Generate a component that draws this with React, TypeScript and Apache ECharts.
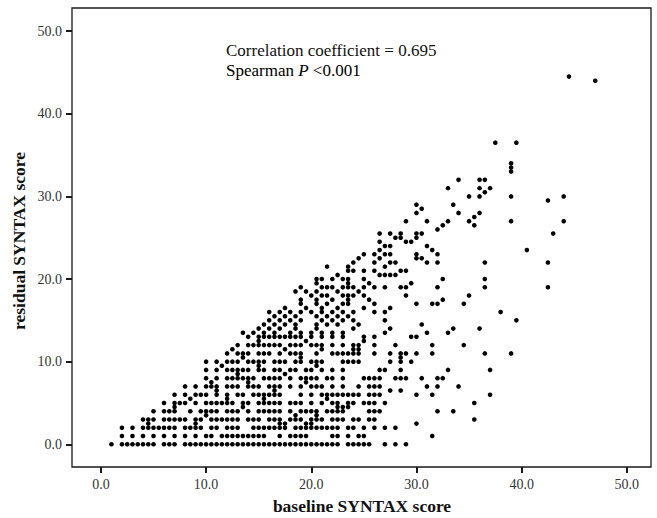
import React, { useEffect, useRef } from "react";
import * as echarts from "echarts";

const xTicks = [0, 10, 20, 30, 40, 50];
const yTicks = [0, 10, 20, 30, 40, 50];

// [residual SYNTAX score, baseline SYNTAX scores at that residual]
const lowRows: [number, number[]][] = [
  [0, [1, 2, 2.5, 3, 3.5, 4, 4.5, 5, 6, 6.5, 7, 8, 8.5, 9, 9.5, 10, 10.5, 11, 11.5, 12, 12.5, 13, 13.5, 14, 14.5, 15, 15.5, 16, 16.5, 17, 17.5, 18, 18.5, 19, 19.5, 20, 20.5, 21, 21.5, 22, 22.5, 23.5, 24, 24.5, 25, 25.5, 27, 28, 29]],
  [1, [2, 3, 4, 5, 6, 7, 8, 9, 10, 10.5, 11.5, 12, 12.5, 13, 13.5, 14, 14.5, 15, 15.5, 17, 18, 18.5, 19, 19.5, 22, 22.5, 23.5, 24.5, 25, 31.5]],
  [2, [2, 3, 4, 4.5, 5, 5.5, 6, 6.5, 7, 8, 8.5, 9, 9.5, 10.5, 11, 12, 12.5, 13, 14.5, 15, 15.5, 16, 16.5, 17, 17.5, 18.5, 19, 19.5, 20, 20.5, 21, 21.5, 22, 22.5, 23.5, 24, 25, 26, 27, 28]],
  [2.5, [4.5, 9, 17, 17.5, 19.5, 20, 30]],
  [3, [4, 4.5, 5, 6, 6.5, 7, 7.5, 8, 9, 9.5, 10.5, 11, 11.5, 12, 12.5, 13, 14, 14.5, 15, 16, 16.5, 17, 18, 18.5, 19, 20, 20.5, 21, 22, 22.5, 23, 24, 24.5, 25.5, 26, 35.5]],
  [3.5, [10, 18.5, 20.5]],
  [4, [5, 6, 6.5, 7, 8.5, 9.5, 10, 10.5, 11, 12, 12.5, 13, 14, 15, 15.5, 16, 16.5, 17, 18, 19, 19.5, 20, 20.5, 21.5, 22, 22.5, 23, 25.5, 26, 26.5, 32, 33.5]],
  [4.5, [7, 13.5, 22.5, 23, 23.5]],
  [5, [6, 7, 7.5, 8, 9, 10, 10.5, 11, 11.5, 12, 12.5, 13.5, 14, 15, 15.5, 16, 16.5, 17, 18, 18.5, 19, 20, 21, 22, 22.5, 23.5, 24, 25, 25.5, 26, 27, 35.5]],
  [5.5, [8.5, 12, 15.5, 21.5]],
  [6, [7, 8, 9, 9.5, 10, 11, 12, 13, 13.5, 14.5, 15, 15.5, 16, 16.5, 17, 19, 20, 21, 21.5, 22, 22.5, 23, 23.5, 24, 24.5, 25.5, 26, 26.5, 30, 31.5, 37]],
  [6.5, [11, 16.5, 27.5, 28.5]],
  [7, [8, 9, 10, 10.5, 11, 12, 12.5, 13, 14, 14.5, 15, 16, 16.5, 17, 18, 19, 20, 20.5, 21, 22, 23, 24.5, 25.5, 26, 26.5, 31, 32, 34]],
  [7.5, [10.5, 14, 19.5]],
  [8, [10, 11, 12, 12.5, 13, 13.5, 14, 14.5, 15.5, 16, 16.5, 17, 18, 19, 19.5, 20, 20.5, 21.5, 22, 23, 25, 25.5, 26, 26.5, 28, 28.5, 29, 30.5, 32, 32.5]],
  [8.5, [13, 17.5]],
  [9, [10, 11, 12, 12.5, 13, 13.5, 14, 15, 15.5, 16.5, 17, 18, 18.5, 19.5, 20, 21, 22, 23, 26.5, 27, 28.5, 33, 37]],
  [9.5, [11.5, 15, 20.5]],
  [10, [10, 11, 12, 12.5, 13, 14, 14.5, 15, 15.5, 16.5, 17, 17.5, 18.5, 19, 20, 20.5, 21, 23, 23.5, 24, 24.5, 27.5, 28.5, 29.5]],
  [10.5, [13.5, 19, 28.5]],
];

const highRows: [number, number[]][] = [
  [11, [12, 13, 13.5, 14, 15, 15.5, 16, 17, 18, 18.5, 19, 20.5, 22, 22.5, 23, 23.5, 24, 24.5, 26, 27.5, 28.5, 29, 30, 31.5, 36.5, 39]],
  [11.5, [12.5, 17.5, 21, 24, 24.5]],
  [12, [13, 14, 14.5, 15, 15.5, 16, 16.5, 17, 18, 18.5, 19, 20, 20.5, 21, 22, 23, 24, 24.5, 26, 28, 31.5, 34.5]],
  [12.5, [15, 19.5, 25]],
  [13, [14, 15, 15.5, 16, 16.5, 17, 17.5, 18, 18.5, 19, 20, 21, 22, 23, 25, 26, 29.5, 30]],
  [13.5, [13.5, 14.5, 15.5, 16.5, 18, 19, 20, 21, 22, 23, 27, 31, 33]],
  [14, [15, 16, 17, 18.5, 20.5, 24, 27.5, 33.5, 36]],
  [14.5, [15.5, 16.5, 17.5, 18.5, 20.5, 21.5, 22.5, 24.5, 30.5]],
  [15, [16, 17, 18, 19, 21, 22, 23, 24, 27, 39.5]],
  [15.5, [16.5, 17.5, 18.5, 20.5, 21.5, 22.5, 23.5]],
  [16, [16, 17, 18, 19, 20, 21, 22, 23, 24, 26, 27, 38]],
  [16.5, [17.5, 19.5, 21, 22.5, 25, 27.5]],
  [17, [19, 20.5, 21.5, 23, 23.5, 26, 30, 31.5, 32, 34.5]],
  [17.5, [19, 20.5, 22, 23.5, 25.5, 32.5]],
  [18, [20, 21, 21.5, 23, 23.5, 24, 25, 29, 35]],
  [18.5, [18.5, 19.5, 20.5, 22.5, 24.5]],
  [19, [19, 21, 21.5, 22, 23, 23.5, 24, 25, 26, 27, 28.5, 29, 32, 36.5, 42.5]],
  [19.5, [20.5, 23.5, 25.5, 29.5]],
  [20, [20.5, 21, 22, 23, 23.5, 25, 32.5, 36.5]],
  [20.5, [22.5, 26.5, 27, 27.5, 28]],
  [21, [23.5, 24, 25, 26, 28.5, 29]],
  [21.5, [21.5, 23.5, 27]],
  [22, [24, 26, 27.5, 28, 31, 32, 36.5, 42.5]],
  [22.5, [24.5, 26.5, 30, 30.5]],
  [23, [25, 26, 27, 27.5, 30, 32]],
  [23.5, [26.5, 31.5, 40.5]],
  [24, [27, 27.5, 31]],
  [24.5, [26.5, 29, 29.5]],
  [25, [28, 28.5, 30]],
  [25.5, [26.5, 27.5, 28.5, 30, 30.5, 43]],
  [26, [32]],
  [26.5, [32.5, 35.5]],
  [27, [29, 31, 33, 35, 39, 44]],
  [27.5, [35.5]],
  [28, [30, 34, 36]],
  [28.5, [30.5]],
  [29, [30, 33.5]],
  [29.5, [42.5]],
  [30, [35, 36, 39, 44]],
  [30.5, [36.5]],
  [31, [33, 36, 37]],
  [32, [34, 36, 36.5]],
  [33, [39]],
  [33.5, [39]],
  [34, [39]],
  [36.5, [37.5, 39.5]],
  [44, [47]],
  [44.5, [44.5]],
];

const annotationLine1 = "Correlation coefficient = 0.695";
const xTitle = "baseline SYNTAX score";
const yTitle = "residual SYNTAX score";

export default function App() {
  const ref = useRef<HTMLDivElement>(null);

  useEffect(() => {
    document.body.style.margin = "0";
    const chart = echarts.init(ref.current!, null, { renderer: "svg" });
    const data = [...lowRows, ...highRows].flatMap(([y, xs]) => xs.map((x) => [x, y]));
    const font = "'Liberation Serif', 'Times New Roman', serif";
    const labelStyle = {
      fontFamily: font,
      fontSize: 14,
      color: "#333",
      margin: 10,
      formatter: (v: number) => v.toFixed(1),
    };
    chart.setOption({
      animation: false,
      backgroundColor: "#fff",
      grid: {
        left: 72,
        right: 6,
        top: 8,
        bottom: 51,
        show: true,
        borderColor: "#1a1a1a",
        borderWidth: 1.3,
        backgroundColor: "transparent",
      },
      xAxis: {
        type: "value",
        min: -2.75,
        max: 52.3,
        axisLine: { show: false, onZero: false },
        splitLine: { show: false },
        axisTick: { show: true, customValues: xTicks, length: 6, lineStyle: { width: 2, color: "#1a1a1a" } },
        axisLabel: { ...labelStyle, customValues: xTicks },
      },
      yAxis: {
        type: "value",
        min: -2.75,
        max: 52.8,
        axisLine: { show: false, onZero: false },
        splitLine: { show: false },
        axisTick: { show: true, customValues: yTicks, length: 6, lineStyle: { width: 2, color: "#1a1a1a" } },
        axisLabel: { ...labelStyle, customValues: yTicks },
      },
      series: [
        {
          type: "scatter",
          data,
          symbol: "circle",
          symbolSize: 4.6,
          itemStyle: { color: "#000", opacity: 1 },
        },
      ],
      graphic: [
        {
          type: "text",
          left: 226,
          top: 42,
          style: { text: annotationLine1, font: `17px ${font}`, fill: "#111" },
        },
        {
          type: "text",
          left: 226,
          top: 62,
          style: {
            text: "{a|Spearman }{b|P}{a| <0.001}",
            rich: {
              a: { fontFamily: font, fontSize: 17, color: "#111" },
              b: { fontFamily: font, fontSize: 17, fontStyle: "italic", color: "#111" },
            },
          },
        },
        {
          type: "text",
          x: 362,
          y: 506,
          style: {
            text: xTitle,
            font: `bold 17.5px ${font}`,
            fill: "#111",
            align: "center",
            verticalAlign: "middle",
          },
        },
        {
          type: "text",
          x: 19,
          y: 241,
          rotation: Math.PI / 2,
          style: {
            text: yTitle,
            font: `bold 17.5px ${font}`,
            fill: "#111",
            align: "center",
            verticalAlign: "middle",
          },
        },
      ],
    });
    return () => chart.dispose();
  }, []);

  return <div ref={ref} style={{ position: "absolute", left: 0, top: 0, width: 657, height: 518 }} />;
}
